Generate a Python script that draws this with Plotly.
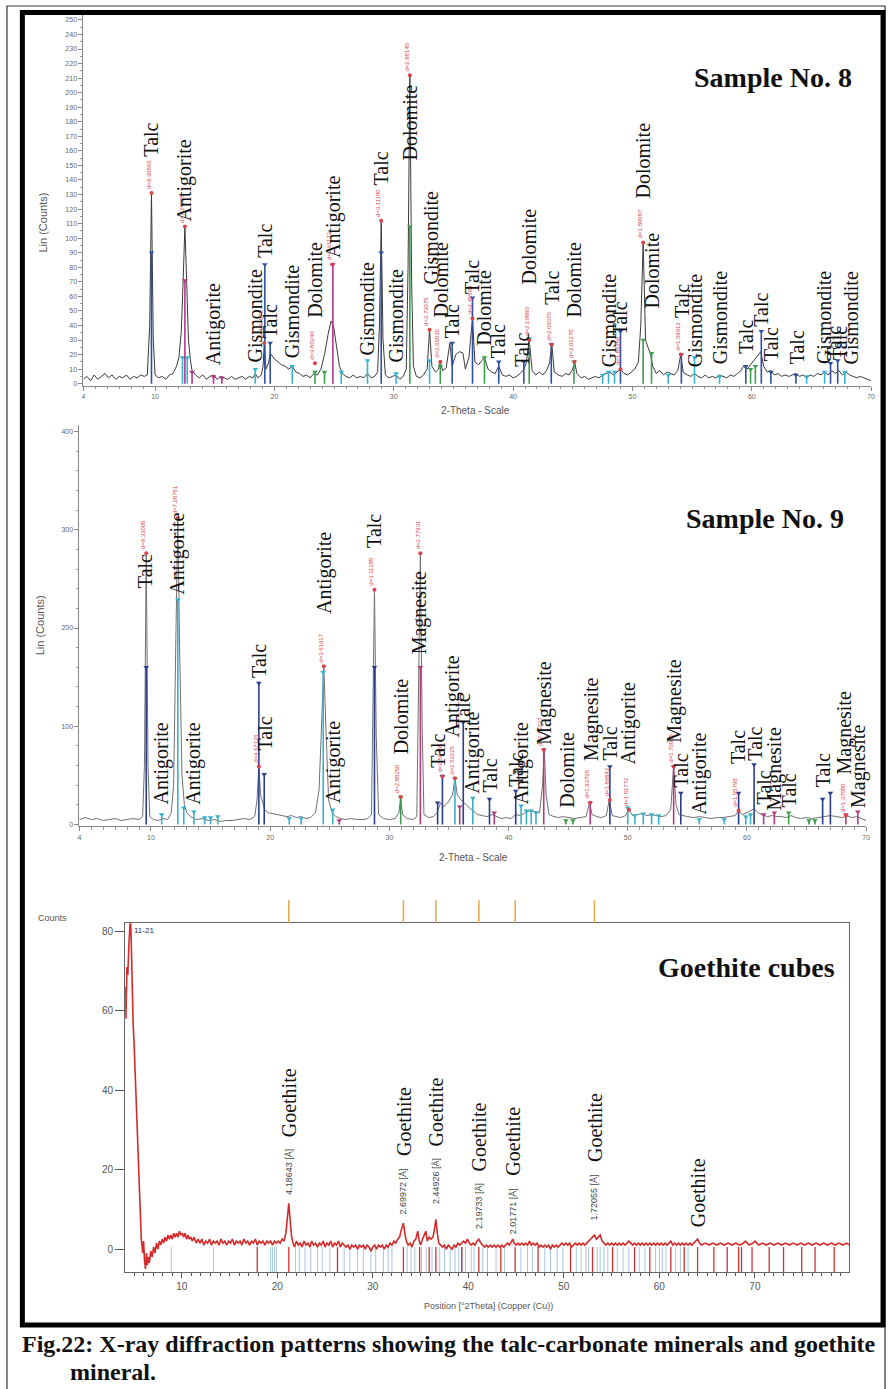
import plotly.graph_objects as go

W, H = 892, 1389

# ---------------- Sample No. 8 : scan (2-theta, Lin counts) ----------------
s8_scan = [
    (4.0, 3), (4.3, 5), (4.6, 2), (4.9, 6), (5.2, 3), (5.5, 5), (5.8, 7), (6.1, 4), (6.4, 6), (6.7, 3),
    (7.0, 5), (7.3, 4), (7.6, 6), (7.9, 3), (8.2, 5), (8.5, 4), (8.8, 6), (9.1, 5), (9.35, 6), (9.55, 40),
    (9.7, 131), (9.85, 30), (10.0, 6), (10.3, 4), (10.6, 5), (10.9, 3), (11.2, 6), (11.5, 7), (11.8, 12),
    (12.0, 18), (12.2, 36), (12.35, 70), (12.5, 108), (12.65, 70), (12.8, 30), (12.95, 17), (13.1, 9),
    (13.4, 6), (13.7, 4), (14.0, 6), (14.3, 3), (14.6, 5), (14.9, 6), (15.2, 3), (15.5, 5), (15.8, 4),
    (16.1, 3), (16.4, 5), (16.7, 3), (17.0, 4), (17.3, 5), (17.6, 3), (17.9, 5), (18.2, 4), (18.4, 7),
    (18.6, 4), (18.9, 6), (19.05, 12), (19.15, 28), (19.3, 10), (19.5, 14), (19.65, 21), (19.8, 19),
    (20.0, 17), (20.3, 15), (20.6, 13), (20.9, 12), (21.2, 10), (21.5, 12), (21.8, 8), (22.1, 7),
    (22.4, 5), (22.7, 6), (23.0, 4), (23.3, 7), (23.6, 6), (23.9, 10), (24.2, 20), (24.5, 34),
    (24.75, 43), (24.95, 40), (25.2, 25), (25.45, 12), (25.7, 7), (26.0, 5), (26.3, 4), (26.6, 6),
    (26.9, 4), (27.2, 5), (27.5, 4), (27.8, 7), (28.1, 4), (28.4, 5), (28.65, 8), (28.8, 40),
    (28.95, 112), (29.1, 30), (29.3, 6), (29.6, 4), (29.9, 5), (30.2, 6), (30.5, 3), (30.8, 5),
    (31.05, 10), (31.2, 80), (31.35, 212), (31.5, 70), (31.65, 12), (31.9, 5), (32.2, 4), (32.5, 6),
    (32.8, 10), (33.0, 37), (33.2, 12), (33.5, 8), (33.75, 10), (33.9, 15), (34.1, 9), (34.4, 11),
    (34.7, 28), (34.9, 12), (35.2, 20), (35.5, 22), (35.8, 21), (36.0, 10), (36.3, 18), (36.6, 45),
    (36.8, 15), (37.1, 13), (37.4, 16), (37.6, 18), (37.9, 10), (38.2, 8), (38.5, 7), (38.8, 12),
    (39.1, 6), (39.4, 5), (39.7, 6), (40.0, 4), (40.3, 5), (40.6, 7), (40.9, 10), (41.1, 14),
    (41.35, 30), (41.6, 9), (41.9, 6), (42.2, 8), (42.5, 6), (42.8, 9), (43.05, 14), (43.25, 27),
    (43.45, 8), (43.8, 6), (44.1, 5), (44.4, 7), (44.7, 6), (45.0, 10), (45.15, 15), (45.35, 7),
    (45.7, 4), (46.0, 5), (46.3, 3), (46.6, 4), (46.9, 5), (47.2, 4), (47.5, 6), (47.8, 7), (48.1, 8),
    (48.4, 6), (48.7, 8), (49.0, 10), (49.3, 7), (49.6, 6), (49.9, 8), (50.2, 10), (50.5, 15),
    (50.7, 40), (50.9, 97), (51.1, 30), (51.3, 25), (51.5, 21), (51.7, 12), (52.0, 7), (52.3, 9),
    (52.6, 6), (52.9, 8), (53.2, 7), (53.5, 6), (53.8, 9), (54.05, 20), (54.25, 8), (54.6, 6),
    (54.9, 5), (55.2, 7), (55.5, 5), (55.8, 4), (56.1, 6), (56.4, 4), (56.7, 5), (57.0, 4), (57.3, 6),
    (57.6, 5), (57.9, 4), (58.2, 6), (58.5, 5), (58.8, 7), (59.1, 9), (59.3, 12), (59.6, 10),
    (59.9, 13), (60.2, 16), (60.5, 19), (60.75, 22), (61.0, 12), (61.3, 8), (61.6, 9), (61.9, 6),
    (62.2, 7), (62.5, 5), (62.8, 6), (63.1, 5), (63.4, 6), (63.7, 7), (64.0, 5), (64.3, 6), (64.6, 4),
    (64.9, 6), (65.2, 5), (65.5, 7), (65.8, 6), (66.1, 8), (66.4, 6), (66.7, 9), (67.0, 7), (67.3, 9),
    (67.6, 6), (67.9, 8), (68.2, 6), (68.5, 5), (68.8, 4), (69.1, 5), (69.4, 4), (69.7, 3), (70.0, 2),
]

# reference sticks, sample 8 (2-theta, height)
s8_talc = [(9.7, 90), (19.2, 82), (19.65, 28), (28.95, 90), (34.9, 28), (36.6, 59), (38.8, 15),
           (40.9, 15), (43.2, 27), (49.0, 36), (54.1, 20), (59.5, 12), (60.8, 36), (61.6, 8),
           (63.7, 6), (66.6, 14), (67.2, 16)]
s8_antigorite = [(12.5, 71), (13.1, 8), (14.9, 5), (15.6, 4), (24.9, 82)]
s8_dolomite = [(23.4, 8), (24.2, 8), (31.35, 108), (33.9, 12), (37.6, 18), (41.35, 31), (45.1, 15),
               (50.9, 30), (51.6, 21), (59.9, 10), (60.3, 12)]
s8_gismondite = [(12.3, 18), (12.7, 18), (18.4, 10), (21.5, 12), (25.6, 8), (27.8, 16), (30.2, 7),
                 (33.0, 16), (47.5, 6), (48.0, 8), (48.5, 8), (53.0, 6), (55.2, 18), (57.3, 5),
                 (64.6, 5), (66.1, 8), (67.8, 8)]

# picked peaks, sample 8 (2-theta, counts, d label)
s8_peaks = [(9.7, 131, "d=9.30866"), (12.5, 108, "d=7.24865"), (19.15, 28, "d=4.64675"),
            (23.4, 14, "d=3.80240"), (24.85, 82, "d=3.61173"), (28.95, 112, "d=3.11180"),
            (31.35, 212, "d=2.88140"), (33.0, 37, "d=2.73075"), (33.9, 15, "d=2.66035"),
            (36.6, 45, "d=2.45500"), (41.35, 30, "d=2.19880"), (43.25, 27, "d=2.09370"),
            (45.15, 15, "d=2.01270"), (49.0, 10, "d=1.86250"), (50.9, 97, "d=1.80087"),
            (54.05, 20, "d=1.69913")]

# mineral labels, sample 8 (name, 2-theta, count level where the text starts)
s8_labels = [("Talc", 9.7, 155), ("Antigorite", 12.5, 110), ("Antigorite", 14.9, 11),
             ("Gismondite", 18.4, 13), ("Talc", 19.2, 85), ("Talc", 19.65, 30),
             ("Gismondite", 21.5, 16), ("Dolomite", 23.4, 44), ("Antigorite", 24.9, 85),
             ("Gismondite", 27.8, 18), ("Talc", 28.95, 135), ("Gismondite", 30.2, 13),
             ("Dolomite", 31.35, 152), ("Gismondite", 33.1, 67), ("Dolomite", 33.95, 44),
             ("Talc", 34.9, 30), ("Talc", 36.6, 60), ("Dolomite", 37.6, 25), ("Talc", 38.8, 16),
             ("Talc", 40.8, 10), ("Dolomite", 41.35, 67), ("Talc", 43.2, 53), ("Dolomite", 45.1, 44),
             ("Gismondite", 48.0, 10), ("Talc", 49.0, 32), ("Dolomite", 50.9, 126),
             ("Dolomite", 51.6, 50), ("Talc", 54.1, 44), ("Gismondite", 55.2, 10),
             ("Gismondite", 57.3, 12), ("Talc", 59.5, 19), ("Talc", 60.8, 38), ("Talc", 61.6, 14),
             ("Talc", 63.8, 12), ("Gismondite", 66.0, 12), ("Talc", 66.9, 15), ("Talc", 67.4, 15),
             ("Gismondite", 68.3, 12)]

# ---------------- Sample No. 9 ----------------
s9_scan = [
    (4.0, 5), (4.5, 7), (5.0, 5), (5.5, 6), (6.0, 4), (6.5, 5), (7.0, 6), (7.5, 4), (8.0, 5), (8.5, 6),
    (9.0, 5), (9.3, 8), (9.45, 60), (9.6, 276), (9.75, 60), (9.9, 8), (10.2, 5), (10.6, 4), (11.0, 6),
    (11.4, 5), (11.7, 12), (11.9, 40), (12.1, 200), (12.25, 312), (12.4, 180), (12.6, 50), (12.8, 20),
    (13.0, 12), (13.3, 8), (13.8, 5), (14.3, 6), (14.8, 4), (15.3, 5), (15.8, 3), (16.3, 4), (16.8, 4),
    (17.3, 5), (17.8, 6), (18.3, 5), (18.7, 8), (18.9, 25), (19.05, 59), (19.2, 30), (19.4, 20),
    (19.55, 15), (19.8, 12), (20.2, 11), (20.6, 10), (21.0, 9), (21.4, 8), (21.8, 9), (22.2, 7),
    (22.6, 8), (23.0, 6), (23.4, 7), (23.8, 12), (24.1, 35), (24.3, 90), (24.5, 161), (24.7, 90),
    (24.9, 25), (25.2, 12), (25.5, 8), (25.9, 6), (26.3, 5), (26.8, 6), (27.3, 5), (27.8, 5), (28.2, 6),
    (28.5, 10), (28.65, 120), (28.75, 239), (28.9, 90), (29.1, 10), (29.5, 6), (30.0, 5), (30.5, 6),
    (30.8, 12), (30.95, 28), (31.1, 10), (31.5, 6), (32.0, 5), (32.3, 8), (32.45, 120), (32.6, 276),
    (32.75, 100), (32.9, 10), (33.3, 7), (33.7, 8), (34.0, 12), (34.3, 22), (34.6, 18), (35.0, 24),
    (35.3, 30), (35.5, 47), (35.7, 30), (36.0, 25), (36.3, 22), (36.6, 18), (37.0, 14), (37.4, 10),
    (37.8, 9), (38.2, 8), (38.6, 10), (39.0, 8), (39.4, 6), (39.8, 7), (40.2, 6), (40.6, 10), (41.0, 9),
    (41.4, 12), (41.8, 14), (42.2, 13), (42.6, 12), (42.85, 40), (43.0, 76), (43.15, 30), (43.4, 10),
    (43.8, 8), (44.2, 7), (44.6, 8), (45.0, 7), (45.5, 6), (46.0, 7), (46.5, 8), (46.8, 22), (47.0, 10),
    (47.4, 8), (47.8, 7), (48.2, 9), (48.45, 25), (48.7, 9), (49.0, 8), (49.4, 7), (49.8, 9),
    (50.1, 15), (50.4, 9), (50.8, 10), (51.2, 11), (51.6, 9), (52.0, 10), (52.4, 9), (52.8, 8),
    (53.2, 9), (53.6, 15), (53.85, 59), (54.05, 20), (54.3, 10), (54.6, 9), (55.0, 8), (55.5, 7),
    (56.0, 8), (56.5, 7), (57.0, 6), (57.5, 7), (58.0, 7), (58.5, 8), (59.0, 9), (59.3, 14), (59.6, 10),
    (60.0, 12), (60.3, 14), (60.6, 16), (60.9, 12), (61.3, 10), (61.7, 8), (62.1, 9), (62.5, 8),
    (62.9, 8), (63.3, 7), (63.7, 9), (64.1, 7), (64.5, 6), (65.0, 7), (65.5, 6), (66.0, 7), (66.5, 8),
    (67.0, 9), (67.5, 8), (68.0, 7), (68.4, 9), (68.8, 7), (69.2, 8), (69.6, 6), (70.0, 4),
]

s9_talc = [(9.6, 160), (19.05, 144), (19.5, 51), (28.75, 160), (34.05, 22), (34.45, 49), (36.2, 104),
           (38.4, 26), (40.6, 34), (48.5, 59), (54.45, 32), (59.3, 32), (60.6, 61), (66.35, 26),
           (67.0, 32)]
s9_antigorite = [(10.9, 10), (12.25, 229), (12.75, 17), (13.6, 13), (14.5, 7), (15.0, 7), (15.6, 8),
                 (21.6, 6), (22.6, 6), (24.45, 155), (25.25, 15), (35.5, 47), (37.0, 27), (41.05, 19),
                 (41.5, 14), (41.9, 14), (42.3, 12), (50.0, 17), (50.6, 9), (51.3, 11), (52.0, 10),
                 (52.6, 9), (56.0, 5), (58.1, 5), (59.9, 8), (60.3, 10)]
s9_magnesite = [(25.8, 4), (32.6, 160), (35.9, 18), (38.8, 12), (42.95, 76), (46.85, 22), (53.85, 59),
                (61.4, 10), (62.3, 12), (68.3, 10), (69.3, 13)]
s9_dolomite = [(30.95, 28), (44.8, 4), (45.4, 4), (63.5, 12), (65.2, 4), (65.7, 4)]

s9_peaks = [(9.6, 276, "d=9.33005"), (12.25, 312, "d=7.28781"), (19.05, 59, "d=4.67126"),
            (24.5, 161, "d=3.61917"), (28.75, 239, "d=3.11285"), (30.95, 28, "d=2.88250"),
            (32.6, 276, "d=2.77931"), (34.45, 49, "d=2.58455"), (35.5, 47, "d=2.52225"),
            (42.95, 76, "d=2.10227"), (46.85, 22, "d=1.93795"), (48.5, 25, "d=1.88842"),
            (50.1, 15, "d=1.81772"), (53.85, 59, "d=1.70005"), (59.3, 14, "d=1.55795"),
            (68.3, 9, "d=1.37080")]

s9_labels = [("Talc", 9.45, 239), ("Antigorite", 10.9, 18), ("Antigorite", 12.2, 232),
             ("Antigorite", 13.6, 18), ("Talc", 19.05, 147), ("Talc", 19.55, 73),
             ("Antigorite", 24.5, 212), ("Antigorite", 25.3, 20), ("Talc", 28.75, 280),
             ("Dolomite", 30.95, 69), ("Magnesite", 32.6, 171), ("Talc", 34.1, 56),
             ("Antigorite", 35.3, 86), ("Talc", 36.2, 97), ("Antigorite", 37.0, 29), ("Talc", 38.4, 31),
             ("Talc", 40.6, 36), ("Antigorite", 41.1, 18), ("Magnesite", 43.0, 79),
             ("Dolomite", 44.9, 15), ("Magnesite", 46.9, 63), ("Talc", 48.5, 63),
             ("Antigorite", 50.1, 59), ("Magnesite", 53.9, 81), ("Talc", 54.5, 36),
             ("Antigorite", 56.0, 8), ("Talc", 59.3, 59), ("Talc", 60.6, 63), ("Talc", 61.4, 18),
             ("Magnesite", 62.3, 12), ("Talc", 63.5, 15), ("Talc", 66.4, 36), ("Magnesite", 68.2, 49),
             ("Magnesite", 69.3, 15)]

# ---------------- Goethite cubes ----------------
gt_scan = [
    (4.07, 66), (4.15, 58), (4.25, 71), (4.35, 69), (4.45, 76), (4.55, 83), (4.62, 84), (4.7, 78),
    (4.8, 66), (4.9, 57), (5.0, 52), (5.15, 42), (5.3, 31), (5.45, 20), (5.6, 10), (5.75, 3), (5.9, -1),
    (6.0, 2), (6.1, -3), (6.2, -5), (6.3, -1), (6.4, -4), (6.5, -2), (6.6, -3.5), (6.75, -0.5),
    (6.9, -2), (7.05, 0.5), (7.2, -1), (7.35, 1.5), (7.5, 0), (7.65, 2), (7.8, 1), (7.95, 2.5),
    (8.1, 1.5), (8.25, 3), (8.4, 2), (8.55, 3.5), (8.7, 2.5), (8.85, 3.5), (9.0, 2.5), (9.15, 4),
    (9.3, 3), (9.45, 4), (9.6, 3), (9.75, 4.5), (9.9, 3.5), (10.05, 4), (10.2, 3), (10.35, 4),
    (10.5, 2.5), (10.65, 3.5), (10.8, 2.5), (10.95, 3), (11.1, 2), (11.3, 3), (11.5, 1.5), (11.7, 2.5),
    (11.9, 1.5), (12.1, 2.5), (12.3, 1), (12.5, 2), (12.7, 1.5), (12.9, 2.5), (13.1, 1), (13.3, 2),
    (13.5, 1.5), (13.7, 2), (13.9, 1), (14.1, 2.5), (14.3, 1.5), (14.5, 2), (14.7, 1), (14.9, 2),
    (15.1, 1.5), (15.3, 2.5), (15.5, 1), (15.7, 2), (15.9, 1.5), (16.1, 2), (16.3, 1), (16.5, 2.5),
    (16.7, 1.5), (16.9, 2), (17.1, 1), (17.3, 2), (17.5, 1.5), (17.7, 2.5), (17.9, 1), (18.1, 2),
    (18.3, 1.5), (18.5, 2), (18.7, 1), (18.9, 2), (19.1, 1.5), (19.3, 2), (19.5, 1), (19.7, 2),
    (19.9, 1.5), (20.1, 2), (20.3, 1.5), (20.5, 2.5), (20.7, 2), (20.9, 4), (21.05, 7), (21.2, 11.5),
    (21.35, 7), (21.5, 3), (21.65, 1.5), (21.8, 0.5), (22.0, 2), (22.2, 1), (22.4, 1.5), (22.6, 0.5),
    (22.8, 2), (23.0, 1), (23.2, 1.5), (23.4, 0.5), (23.6, 2), (23.8, 1), (24.0, 1.5), (24.2, 0.5),
    (24.4, 1.5), (24.6, 1), (24.8, 2), (25.0, 0.5), (25.2, 1.5), (25.4, 1), (25.6, 2), (25.8, 0.5),
    (26.0, 1.5), (26.2, 1), (26.4, 2), (26.6, 0.5), (26.8, 1.5), (27.0, 1), (27.2, 0.5), (27.4, 1),
    (27.6, 0), (27.8, 1), (28.0, 0.5), (28.2, 1), (28.4, 0), (28.6, 1), (28.8, 0.5), (29.0, 1),
    (29.2, 0), (29.4, 1), (29.6, 0.5), (29.8, -0.5), (30.0, 0.5), (30.2, 1), (30.4, 0), (30.6, 1),
    (30.8, 0.5), (31.0, 1), (31.2, 0), (31.4, 1), (31.6, 0.5), (31.8, 1.5), (32.0, 1), (32.2, 2),
    (32.4, 1.5), (32.6, 2.5), (32.8, 3), (33.0, 5), (33.2, 6.5), (33.35, 4), (33.5, 2), (33.7, 1),
    (33.9, 1.5), (34.1, 0.5), (34.3, 2), (34.5, 2.5), (34.7, 4.5), (34.85, 2), (35.0, 1), (35.2, 2.5),
    (35.4, 3.5), (35.55, 4.5), (35.7, 2), (35.9, 3), (36.1, 2.5), (36.3, 3), (36.45, 5), (36.6, 7.5),
    (36.75, 4), (36.9, 1.5), (37.1, 1), (37.3, 0.5), (37.5, 1), (37.7, 0), (37.9, 1), (38.1, 0.5),
    (38.3, 0), (38.5, 1), (38.7, 0.5), (38.9, 1.5), (39.1, 1), (39.3, 1.5), (39.5, 2), (39.7, 1.5),
    (39.9, 2.5), (40.1, 1.5), (40.3, 1), (40.5, 1.5), (40.7, 1), (40.9, 2), (41.1, 2.5), (41.3, 1.5),
    (41.5, 1), (41.7, 0.5), (41.9, 1), (42.1, 0.5), (42.3, 1), (42.5, 0.5), (42.7, 1), (42.9, 0.5),
    (43.1, 1), (43.3, 0.5), (43.5, 1), (43.7, 0.5), (43.9, 1), (44.1, 1.5), (44.3, 1), (44.5, 2),
    (44.65, 2.5), (44.8, 1.5), (45.0, 1), (45.2, 1.5), (45.4, 1), (45.6, 1.5), (45.8, 1), (46.0, 1.5),
    (46.2, 1), (46.4, 2), (46.6, 1), (46.8, 1.5), (47.0, 1), (47.2, 1.5), (47.4, 0.5), (47.6, 1),
    (47.8, 0.5), (48.0, 1), (48.2, 0.5), (48.4, 1), (48.6, 0), (48.8, 1), (49.0, 0.5), (49.2, 1),
    (49.4, 0.5), (49.6, 1), (49.8, 1.5), (50.0, 1), (50.2, 1.5), (50.4, 1), (50.6, 1.5), (50.8, 0.5),
    (51.0, 1), (51.2, 1.5), (51.4, 1), (51.6, 1.5), (51.8, 1), (52.0, 1.5), (52.2, 1), (52.4, 1.5),
    (52.6, 2), (52.8, 2.5), (53.0, 3), (53.2, 3.5), (53.4, 2.5), (53.6, 3), (53.8, 3.5), (54.0, 2),
    (54.2, 1.5), (54.4, 1), (54.6, 1.5), (54.8, 1), (55.0, 1.5), (55.2, 1), (55.4, 1.5), (55.6, 1),
    (55.8, 1.5), (56.0, 1), (56.2, 1.5), (56.4, 1), (56.6, 1.5), (56.8, 2), (57.0, 1.5), (57.2, 1),
    (57.4, 1.5), (57.6, 1), (57.8, 1.5), (58.0, 1), (58.2, 1.5), (58.4, 1), (58.6, 1.5), (58.8, 1),
    (59.0, 1.5), (59.2, 1), (59.4, 1.5), (59.6, 1), (59.8, 1.5), (60.0, 1), (60.2, 1.5), (60.4, 1),
    (60.6, 1.5), (60.8, 1), (61.0, 1.5), (61.2, 2), (61.4, 1), (61.6, 1.5), (61.8, 1), (62.0, 1.5),
    (62.2, 1), (62.4, 1.5), (62.6, 1), (62.8, 1.5), (63.0, 1), (63.2, 1.5), (63.4, 1), (63.6, 1.5),
    (63.8, 2), (64.0, 2.5), (64.2, 1.5), (64.4, 1), (64.8, 1.5), (65.2, 1), (65.6, 1.5), (66.0, 1),
    (66.4, 1.5), (66.8, 1), (67.2, 1.5), (67.6, 1), (68.0, 1.5), (68.4, 1), (68.8, 1.5), (69.0, 2),
    (69.4, 1), (69.8, 1.5), (70.0, 2), (70.4, 1), (70.8, 1.5), (71.2, 1), (71.6, 1.5), (72.0, 1),
    (72.4, 1.5), (72.8, 1), (73.2, 1.5), (73.6, 1), (74.0, 1.5), (74.4, 1), (74.8, 1.5), (75.2, 1),
    (75.6, 1.5), (76.0, 1), (76.4, 1.5), (76.8, 1), (77.2, 1.5), (77.6, 1), (78.0, 1.5), (78.4, 1),
    (78.8, 1.5), (79.2, 1), (79.6, 1.5), (79.9, 1),
]

gt_ref_blue = [8.9, 13.3, 19.3, 19.5, 19.7, 19.9, 21.9, 22.3, 22.9, 23.5, 24.2, 24.7, 25.5, 27.0, 27.6,
               28.4, 29.0, 29.8, 30.3, 31.1, 31.6, 32.0, 33.6, 34.0, 34.4, 35.1, 35.6, 36.2, 37.0, 37.5,
               38.1, 38.6, 39.0, 39.4, 39.7, 40.3, 40.6, 41.5, 42.0, 42.9, 43.8, 45.5, 46.2, 46.7, 48.0,
               48.6, 49.3, 49.9, 51.3, 51.8, 52.3, 52.6, 53.5, 53.8, 54.2, 54.6, 55.6, 56.2, 56.8, 57.9,
               58.5, 59.6, 60.0, 60.3, 60.7, 61.7, 62.2, 63.0]
gt_ref_red = [17.9, 21.2, 26.3, 33.2, 34.9, 35.9, 36.6, 39.3, 41.1, 43.4, 44.9, 47.3, 50.7, 53.0, 55.1,
              57.4, 59.0, 61.2, 62.6, 64.0, 65.7, 67.1, 68.3, 68.6, 69.7, 71.5, 73.0, 74.9, 76.3, 78.3]
gt_marker_theta = [21.2, 33.2, 36.6, 41.1, 44.9, 53.2]

# goethite peak labels (2-theta, count level, d text)
gt_labels = [(21.2, 13.1, "4.18643 [Å]"), (33.2, 8.3, "2.69972 [Å]"), (36.6, 10.8, "2.44926 [Å]"),
             (41.1, 4.5, "2.19733 [Å]"), (44.7, 3.3, "2.01771 [Å]"), (53.2, 6.8, "1.72055 [Å]"),
             (64.0, 5.0, "")]

# ---------------- figure ----------------
SERIF = "Liberation Serif, Times New Roman, serif"
SANS = "Liberation Sans, Arial, sans-serif"


def px(x):
    return x / W


def py(y):
    return 1 - y / H


fig = go.Figure()


def add_scan(scan, color, width, xa, ya):
    t, c = zip(*scan)
    fig.add_trace(go.Scatter(x=list(t), y=list(c), mode="lines", line=dict(color=color, width=width),
                             xaxis=xa, yaxis=ya, hoverinfo="skip"))


def add_sticks(sticks, color, xa, ya):
    xs, ys = [], []
    for t, h in sticks:
        xs += [t, t, None]
        ys += [0, h, None]
    fig.add_trace(go.Scatter(x=xs, y=ys, mode="lines", line=dict(color=color, width=1.6),
                             xaxis=xa, yaxis=ya, hoverinfo="skip"))
    fig.add_trace(go.Scatter(x=[s[0] for s in sticks], y=[s[1] for s in sticks], mode="markers",
                             marker=dict(symbol="triangle-down", size=5, color=color),
                             xaxis=xa, yaxis=ya, hoverinfo="skip"))


def add_peaks(peaks, xa, ya, xref, yref):
    fig.add_trace(go.Scatter(x=[p[0] for p in peaks], y=[p[1] for p in peaks], mode="markers",
                             marker=dict(symbol="circle", size=4, color="#d9434b"),
                             xaxis=xa, yaxis=ya, hoverinfo="skip"))
    for t, c, txt in peaks:
        fig.add_annotation(x=t, y=c, xref=xref, yref=yref, text=txt, showarrow=False,
                           textangle=-90, xanchor="center", yanchor="bottom", yshift=2, xshift=-3,
                           font=dict(family=SANS, size=6, color="#d9434b"))


def add_labels(labels, xref, yref):
    for name, t, base in labels:
        fig.add_annotation(x=t, y=base, xref=xref, yref=yref, text=name, showarrow=False,
                           textangle=-90, xanchor="center", yanchor="bottom",
                           font=dict(family=SERIF, size=20, color="#111"))


# sample 8
add_scan(s8_scan, "#3a3a3a", 1, "x", "y")
add_sticks(s8_gismondite, "#33b4d2", "x", "y")
add_sticks(s8_antigorite, "#b8338a", "x", "y")
add_sticks(s8_dolomite, "#3e9e4a", "x", "y")
add_sticks(s8_talc, "#2f4fa0", "x", "y")
add_peaks(s8_peaks, "x", "y", "x", "y")
add_labels(s8_labels, "x", "y")

# sample 9
add_scan(s9_scan, "#707070", 1, "x2", "y2")
add_sticks(s9_antigorite, "#3ab0c8", "x2", "y2")
add_sticks(s9_dolomite, "#3e9e4a", "x2", "y2")
add_sticks(s9_magnesite, "#b33a7e", "x2", "y2")
add_sticks(s9_talc, "#2b3d8f", "x2", "y2")
add_peaks(s9_peaks, "x2", "y2", "x2", "y2")
add_labels(s9_labels, "x2", "y2")

# goethite
bx, by = [], []
for t in gt_ref_blue:
    bx += [t, t, None]
    by += [-7, 0.5, None]
fig.add_trace(go.Scatter(x=bx, y=by, mode="lines", line=dict(color="#a9c6de", width=1),
                         xaxis="x3", yaxis="y3", hoverinfo="skip"))
rx, ry = [], []
for t in gt_ref_red:
    rx += [t, t, None]
    ry += [-7, 0.5, None]
fig.add_trace(go.Scatter(x=rx, y=ry, mode="lines", line=dict(color="#d23030", width=1.3),
                         xaxis="x3", yaxis="y3", hoverinfo="skip"))
add_scan(gt_scan, "#d42a2a", 1.6, "x3", "y3")

for t, base, dtxt in gt_labels:
    shift = 0
    if dtxt:
        fig.add_annotation(x=t, y=base, xref="x3", yref="y3", text=dtxt, showarrow=False,
                           textangle=-90, xanchor="center", yanchor="bottom",
                           font=dict(family=SANS, size=9, color="#444"))
        shift = 58
    fig.add_annotation(x=t, y=base, xref="x3", yref="y3", text="Goethite", showarrow=False,
                       textangle=-90, xanchor="center", yanchor="bottom", yshift=shift,
                       font=dict(family=SERIF, size=20, color="#111"))

for t in gt_marker_theta:
    fig.add_shape(type="line", xref="x3", yref="paper", x0=t, x1=t, y0=py(924), y1=py(901),
                  line=dict(color="#e2a84a", width=1.5))

# axes
tick_font = dict(family=SANS, size=7, color="#666")
xr_common = dict(showgrid=False, zeroline=False, showline=True, linecolor="#888", linewidth=1,
                 ticks="outside", ticklen=4, tickcolor="#888", tickfont=tick_font,
                 tickmode="array", tickvals=[4, 10, 20, 30, 40, 50, 60, 70],
                 minor=dict(tickmode="linear", tick0=0, dtick=1, ticks="outside", ticklen=2.5,
                            tickcolor="#999"))

fig.update_layout(
    width=W, height=H, margin=dict(l=0, r=0, t=0, b=0),
    paper_bgcolor="white", plot_bgcolor="rgba(0,0,0,0)", showlegend=False,
    xaxis=dict(domain=[px(82), px(875)], range=[4, 70], anchor="y", **xr_common),
    yaxis=dict(domain=[py(386), py(15)], range=[-1.4, 253.4], anchor="x", showgrid=False,
               zeroline=False, showline=True, linecolor="#888", ticks="outside", ticklen=4,
               tickcolor="#888", tickfont=tick_font, tickmode="linear", tick0=0, dtick=10,
               minor=dict(tickmode="linear", tick0=0, dtick=5, ticks="outside", ticklen=2,
                          tickcolor="#999")),
    xaxis2=dict(domain=[px(78), px(870)], range=[4, 70], anchor="y2", **xr_common),
    yaxis2=dict(domain=[py(827), py(425)], range=[-2, 407], anchor="x2", showgrid=False,
                zeroline=False, showline=True, linecolor="#888", ticks="outside", ticklen=4,
                tickcolor="#888", tickfont=tick_font, tickmode="linear", tick0=0, dtick=100,
                minor=dict(tickmode="linear", tick0=0, dtick=20, ticks="outside", ticklen=2,
                           tickcolor="#999")),
    xaxis3=dict(domain=[px(124), px(853)], range=[4.07, 79.88], anchor="y3", showgrid=False,
                zeroline=False, showline=True, mirror=True, linecolor="#666", linewidth=1.3,
                ticks="outside", ticklen=5, tickcolor="#555", tickmode="linear", tick0=0, dtick=10,
                tickfont=dict(family=SANS, size=10, color="#555"),
                minor=dict(tickmode="linear", tick0=0, dtick=1, ticks="outside", ticklen=3,
                           tickcolor="#555")),
    yaxis3=dict(domain=[py(1273), py(924)], range=[-5.8, 82], anchor="x3", showgrid=False,
                zeroline=False, showline=True, mirror=True, linecolor="#666", linewidth=1.3,
                ticks="outside", ticklen=9, tickcolor="#555", tickmode="array",
                tickvals=[0, 20, 40, 60, 80], tickfont=dict(family=SANS, size=10, color="#555")),
)

# axis titles and panel titles
ann = [
    (41, 223, "Lin (Counts)", -90, dict(family=SANS, size=11, color="#555")),
    (477, 411, "2-Theta - Scale", 0, dict(family=SANS, size=10, color="#555")),
    (38, 626, "Lin (Counts)", -90, dict(family=SANS, size=11, color="#555")),
    (475, 858, "2-Theta - Scale", 0, dict(family=SANS, size=10, color="#555")),
    (51, 919, "Counts", 0, dict(family=SANS, size=9, color="#555")),
    (490, 1307, "Position [°2Theta] (Copper (Cu))", 0, dict(family=SANS, size=9, color="#555")),
    (143, 931, "11-21", 0, dict(family=SANS, size=8, color="#333")),
    (776, 78, "<b>Sample No. 8</b>", 0, dict(family=SERIF, size=28, color="#111")),
    (768, 519, "<b>Sample No. 9</b>", 0, dict(family=SERIF, size=28, color="#111")),
    (750, 968, "<b>Goethite cubes</b>", 0, dict(family=SERIF, size=28, color="#111")),
]
for x, y, txt, ang, f in ann:
    fig.add_annotation(x=px(x), y=py(y), xref="paper", yref="paper", text=txt, showarrow=False,
                       textangle=ang, xanchor="center", yanchor="middle", font=f)

# caption
fig.add_annotation(x=px(18), y=py(1345), xref="paper", yref="paper", showarrow=False,
                   xanchor="left", yanchor="middle",
                   text="<b>Fig.22: X-ray diffraction patterns showing the talc-carbonate minerals and goethite</b>",
                   font=dict(family=SERIF, size=24, color="#111"))
fig.add_annotation(x=px(66), y=py(1373), xref="paper", yref="paper", showarrow=False,
                   xanchor="left", yanchor="middle", text="<b>mineral.</b>",
                   font=dict(family=SERIF, size=24, color="#111"))

# frames
fig.add_shape(type="rect", xref="paper", yref="paper", x0=px(5), x1=px(889), y0=py(1392), y1=py(6),
              line=dict(color="#333", width=1.2))
fig.add_shape(type="rect", xref="paper", yref="paper", x0=px(20.5), x1=px(887), y0=py(1326),
              y1=py(12.5), line=dict(color="black", width=5))

fig.write_html("out.html", config={"displayModeBar": False},
               post_script="document.body.style.margin='0';document.body.style.overflow='hidden';")
